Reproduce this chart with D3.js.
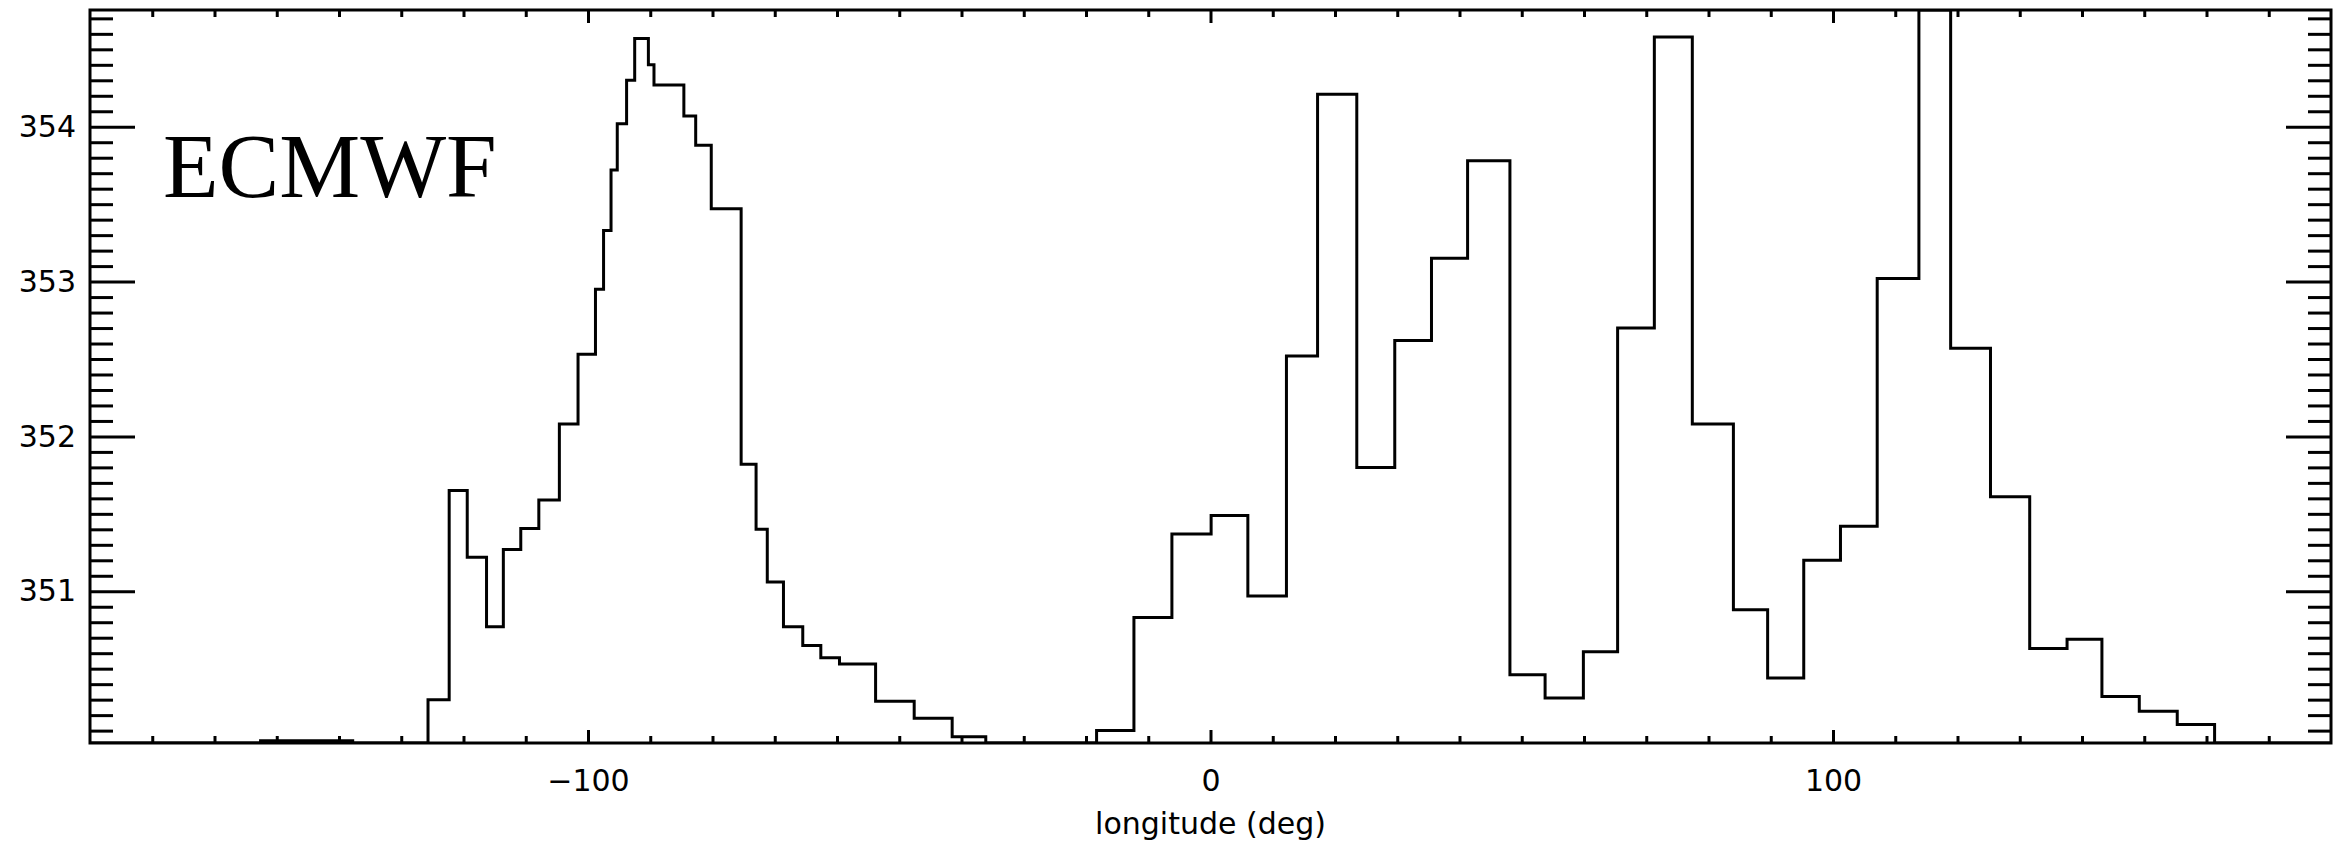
<!DOCTYPE html>
<html>
<head>
<meta charset="utf-8">
<script src="https://cdn.jsdelivr.net/npm/d3@7"></script>
<style>
  html, body { margin: 0; padding: 0; background: #fff; }
  #chart svg { display: block; }
</style>
</head>
<body>
<div id="chart"></div>
<script>
// Step edges (longitude, deg) and the value held from each edge to the next
const lonEdges = [
  -180, -152.6, -137.8, -125.7, -122.3, -119.4, -116.3, -113.6, -110.8, -107.9,
  -104.6, -101.6, -98.8, -97.5, -96.3, -95.3, -93.8, -92.5, -90.3, -89.4,
  -84.6, -82.7, -80.2, -75.4, -73.0, -71.2, -68.6, -65.5, -62.6,
  -59.6, -53.8, -47.6, -41.5, -36.1, -18.3, -12.3, -6.2, 0.1, 6.0,
  12.2, 17.2, 23.5, 29.6, 35.5, 41.3, 48.1, 53.75, 59.9, 65.4,
  71.3, 77.4, 84.0, 89.5, 95.3, 101.2, 107.1, 113.8, 118.9, 125.3,
  131.6, 137.6, 143.2, 149.2, 155.3, 161.3, 180
];
const values = [
  350.02, 350.035, 350.02, 350.30, 351.65, 351.22, 350.77, 351.27, 351.405, 351.59,
  352.08, 352.53, 352.95, 353.33, 353.72, 354.02, 354.30, 354.57, 354.40, 354.27,
  354.07, 353.88, 353.47, 351.82, 351.40, 351.06, 350.77, 350.65, 350.57,
  350.53, 350.29, 350.18, 350.06, 350.02, 350.10, 350.83, 351.37, 351.49, 350.97,
  352.52, 354.21, 351.80, 352.62, 353.15, 353.78, 350.46, 350.31, 350.61, 352.70,
  354.58, 352.08, 350.88, 350.44, 351.20, 351.42, 353.02, 354.754, 352.57, 351.61,
  350.63, 350.69, 350.32, 350.225, 350.14, 350.02, 350.02
];

const xDomain = [-180, 180];
const yDomain = [350.02, 354.754];
const xMajorTicks = [-100, 0, 100];
const xTickLabels = ['\u2212100', '0', '100'];
const yMajorTicks = [351, 352, 353, 354];
const yTickLabels = ['351', '352', '353', '354'];
const xTitle = 'longitude (deg)';
const panelLabel = 'ECMWF';

function drawChart(containerId) {
  const container = d3.select(`#${containerId}`);
  container.html('');

  // Configuration
  const width = 2342;
  const height = 847;
  const margin = { top: 10, right: 11, bottom: 104, left: 90 };
  const w = width - margin.left - margin.right;
  const h = height - margin.top - margin.bottom;
  const labelFont = '"DejaVu Sans", sans-serif';

  const x = d3.scaleLinear().domain(xDomain).range([0, w]);
  const y = d3.scaleLinear().domain(yDomain).range([h, 0]);

  const svg = container.append('svg')
    .attr('width', width)
    .attr('height', height)
    .style('background', '#fff');

  const g = svg.append('g')
    .attr('transform', `translate(${margin.left},${margin.top})`);

  svg.append('defs').append('clipPath')
    .attr('id', 'plot-clip')
    .append('rect')
    .attr('x', 0).attr('y', 0).attr('width', w).attr('height', h);

  // minor ticks every 10 deg / 0.1 units
  const xMinor = d3.range(-170, 180, 10).filter(d => !xMajorTicks.includes(d));
  const yMinor = d3.range(3501, 3548).map(d => d / 10).filter(d => d > yDomain[0] && !yMajorTicks.includes(d));

  const styleAxis = sel => {
    sel.select('.domain').remove();
    sel.selectAll('line').attr('stroke', '#000').attr('stroke-width', 3);
    sel.selectAll('text')
      .style('font-family', labelFont)
      .style('font-size', '30px')
      .attr('fill', '#000');
  };

  // bottom axis
  g.append('g')
    .attr('transform', `translate(0,${h})`)
    .call(d3.axisBottom(x).tickValues(xMajorTicks).tickSize(-13).tickPadding(27)
      .tickFormat((d, i) => xTickLabels[i]))
    .call(styleAxis);
  g.append('g')
    .attr('transform', `translate(0,${h})`)
    .call(d3.axisBottom(x).tickValues(xMinor).tickSize(-7).tickFormat(''))
    .call(styleAxis);

  // top axis (ticks only)
  g.append('g')
    .call(d3.axisTop(x).tickValues(xMajorTicks).tickSize(-13).tickFormat(''))
    .call(styleAxis);
  g.append('g')
    .call(d3.axisTop(x).tickValues(xMinor).tickSize(-7).tickFormat(''))
    .call(styleAxis);

  // left axis
  g.append('g')
    .call(d3.axisLeft(y).tickValues(yMajorTicks).tickSize(-45).tickPadding(14)
      .tickFormat((d, i) => yTickLabels[i]))
    .call(styleAxis);
  g.append('g')
    .call(d3.axisLeft(y).tickValues(yMinor).tickSize(-23).tickFormat(''))
    .call(styleAxis);

  // right axis (ticks only)
  g.append('g')
    .attr('transform', `translate(${w},0)`)
    .call(d3.axisRight(y).tickValues(yMajorTicks).tickSize(-45).tickFormat(''))
    .call(styleAxis);
  g.append('g')
    .attr('transform', `translate(${w},0)`)
    .call(d3.axisRight(y).tickValues(yMinor).tickSize(-23).tickFormat(''))
    .call(styleAxis);

  // step line
  const points = lonEdges.map((lon, i) => ({ lon, v: values[i] }));
  const line = d3.line()
    .x(d => x(d.lon))
    .y(d => y(d.v))
    .curve(d3.curveStepAfter);

  g.append('path')
    .datum(points)
    .attr('clip-path', 'url(#plot-clip)')
    .attr('d', line)
    .attr('fill', 'none')
    .attr('stroke', '#000')
    .attr('stroke-width', 3);

  // frame
  g.append('rect')
    .attr('width', w)
    .attr('height', h)
    .attr('fill', 'none')
    .attr('stroke', '#000')
    .attr('stroke-width', 3);

  // axis title
  g.append('text')
    .attr('x', w / 2)
    .attr('y', h + 91)
    .attr('text-anchor', 'middle')
    .style('font-family', labelFont)
    .style('font-size', '30px')
    .text(xTitle);

  // panel label
  g.append('text')
    .attr('x', 163 - margin.left)
    .attr('y', 197 - margin.top)
    .style('font-family', '"Liberation Serif", "Times New Roman", serif')
    .style('font-size', '91px')
    .text(panelLabel);
}

drawChart('chart');
</script>
</body>
</html>
